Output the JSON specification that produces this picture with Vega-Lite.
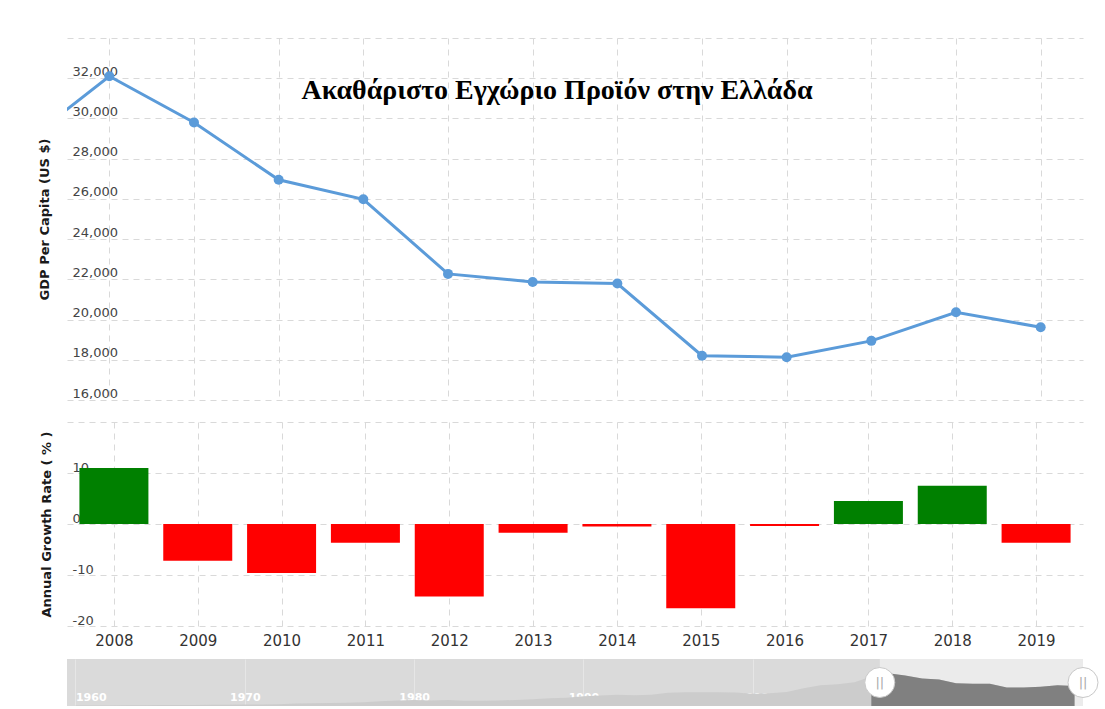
{
  "$schema": "https://vega.github.io/schema/vega-lite/v6.json",
  "background": "#ffffff",
  "padding": {"left": 38, "top": 38, "right": 10, "bottom": 0},
  "spacing": 11,
  "config": {
    "view": {"stroke": null},
    "font": "DejaVu Sans",
    "axis": {
      "gridColor": "#d9d9d9",
      "gridDash": [6, 5],
      "gridWidth": 1,
      "domain": false,
      "labelFont": "DejaVu Sans",
      "titleFont": "DejaVu Sans"
    }
  },
  "datasets": {
    "gdp": [
      {"year": 2007, "gdp": 28800, "growth": null},
      {"year": 2008, "gdp": 32100, "growth": 11.0},
      {"year": 2009, "gdp": 29800, "growth": -7.2},
      {"year": 2010, "gdp": 26950, "growth": -9.6},
      {"year": 2011, "gdp": 25980, "growth": -3.7},
      {"year": 2012, "gdp": 22270, "growth": -14.2},
      {"year": 2013, "gdp": 21870, "growth": -1.7},
      {"year": 2014, "gdp": 21790, "growth": -0.5},
      {"year": 2015, "gdp": 18200, "growth": -16.5},
      {"year": 2016, "gdp": 18130, "growth": -0.4},
      {"year": 2017, "gdp": 18940, "growth": 4.5},
      {"year": 2018, "gdp": 20360, "growth": 7.5},
      {"year": 2019, "gdp": 19620, "growth": -3.7}
    ],
    "history": [
      {"year": 1960, "gdp": 520}, {"year": 1961, "gdp": 580}, {"year": 1962, "gdp": 610},
      {"year": 1963, "gdp": 680}, {"year": 1964, "gdp": 770}, {"year": 1965, "gdp": 870},
      {"year": 1966, "gdp": 960}, {"year": 1967, "gdp": 1030}, {"year": 1968, "gdp": 1110},
      {"year": 1969, "gdp": 1260}, {"year": 1970, "gdp": 1450}, {"year": 1971, "gdp": 1590},
      {"year": 1972, "gdp": 1830}, {"year": 1973, "gdp": 2430}, {"year": 1974, "gdp": 2790},
      {"year": 1975, "gdp": 3020}, {"year": 1976, "gdp": 3290}, {"year": 1977, "gdp": 3770},
      {"year": 1978, "gdp": 4550}, {"year": 1979, "gdp": 5500}, {"year": 1980, "gdp": 5890},
      {"year": 1981, "gdp": 5500}, {"year": 1982, "gdp": 5840}, {"year": 1983, "gdp": 5250},
      {"year": 1984, "gdp": 5180}, {"year": 1985, "gdp": 5410}, {"year": 1986, "gdp": 5940},
      {"year": 1987, "gdp": 6660}, {"year": 1988, "gdp": 7670}, {"year": 1989, "gdp": 7980},
      {"year": 1990, "gdp": 9620}, {"year": 1991, "gdp": 10220}, {"year": 1992, "gdp": 11120},
      {"year": 1993, "gdp": 10560}, {"year": 1994, "gdp": 11060}, {"year": 1995, "gdp": 12990},
      {"year": 1996, "gdp": 13550}, {"year": 1997, "gdp": 13340}, {"year": 1998, "gdp": 13360},
      {"year": 1999, "gdp": 13160}, {"year": 2000, "gdp": 11890}, {"year": 2001, "gdp": 12380},
      {"year": 2002, "gdp": 13740}, {"year": 2003, "gdp": 17490}, {"year": 2004, "gdp": 20270},
      {"year": 2005, "gdp": 21400}, {"year": 2006, "gdp": 23360}, {"year": 2007, "gdp": 28800},
      {"year": 2008, "gdp": 32100}, {"year": 2009, "gdp": 29800}, {"year": 2010, "gdp": 26950},
      {"year": 2011, "gdp": 25980}, {"year": 2012, "gdp": 22270}, {"year": 2013, "gdp": 21870},
      {"year": 2014, "gdp": 21790}, {"year": 2015, "gdp": 18200}, {"year": 2016, "gdp": 18130},
      {"year": 2017, "gdp": 18940}, {"year": 2018, "gdp": 20360}, {"year": 2019, "gdp": 19620}
    ],
    "selection": [{"start": 2007.5, "end": 2019.5}],
    "handles": [{"edge": 2007.5}, {"edge": 2019.5}]
  },
  "vconcat": [
    {
      "width": 1016,
      "height": 362,
      "data": {"name": "gdp"},
      "title": {
        "text": "Ακαθάριστο Εγχώριο Προϊόν στην Ελλάδα",
        "font": "Liberation Serif",
        "fontSize": 28,
        "fontWeight": "bold",
        "color": "#000000",
        "anchor": "middle",
        "baseline": "alphabetic",
        "offset": 0,
        "dy": 89,
        "dx": -18
      },
      "encoding": {
        "x": {
          "field": "year",
          "type": "quantitative",
          "scale": {"domain": [2007.5, 2019.5], "nice": false, "zero": false},
          "axis": {
            "values": [2008, 2009, 2010, 2011, 2012, 2013, 2014, 2015, 2016, 2017, 2018, 2019],
            "labels": false,
            "ticks": true,
            "tickSize": 11,
            "tickOpacity": 0,
            "title": null,
            "grid": true
          }
        },
        "y": {
          "field": "gdp",
          "type": "quantitative",
          "scale": {"domain": [16000, 34000], "nice": false, "zero": false},
          "axis": {
            "values": [16000, 18000, 20000, 22000, 24000, 26000, 28000, 30000, 32000, 34000],
            "labelExpr": "datum.value >= 34000 ? '' : format(datum.value, ',')",
            "title": "GDP Per Capita (US $)",
            "titleFontSize": 13,
            "titleFontWeight": "bold",
            "titleColor": "#1a1a1a",
            "titlePadding": 16,
            "labelAlign": "left",
            "labelBaseline": "alphabetic",
            "labelPadding": -5,
            "labelOffset": -3,
            "ticks": false,
            "tickSize": 0,
            "labelFontSize": 13,
            "labelColor": "#444444",
            "minExtent": 0,
            "maxExtent": 0,
            "grid": true
          }
        }
      },
      "layer": [
        {"mark": {"type": "line", "color": "#5b9bd9", "strokeWidth": 3, "clip": true}},
        {"mark": {"type": "point", "filled": true, "size": 100, "color": "#5b9bd9", "opacity": 1, "clip": true}}
      ]
    },
    {
      "width": 1016,
      "height": 204,
      "data": {"name": "gdp"},
      "mark": {"type": "bar", "size": 69, "clip": true},
      "encoding": {
        "x": {
          "field": "year",
          "type": "quantitative",
          "scale": {"domain": [2007.5, 2019.5], "nice": false, "zero": false},
          "axis": {
            "values": [2008, 2009, 2010, 2011, 2012, 2013, 2014, 2015, 2016, 2017, 2018, 2019],
            "format": "d",
            "title": null,
            "ticks": false,
            "tickSize": 0,
            "labelPadding": 7,
            "labelFontSize": 15,
            "labelColor": "#333333",
            "labelFlush": false,
            "grid": true
          }
        },
        "y": {
          "field": "growth",
          "type": "quantitative",
          "scale": {"domain": [-20, 20], "nice": false},
          "axis": {
            "values": [-20, -10, 0, 10, 20],
            "labelExpr": "datum.value >= 20 ? '' : '' + datum.value",
            "title": "Annual Growth Rate ( % )",
            "titleFontSize": 13,
            "titleFontWeight": "bold",
            "titleColor": "#1a1a1a",
            "titlePadding": 14,
            "labelAlign": "left",
            "labelBaseline": "alphabetic",
            "labelPadding": -5,
            "labelOffset": -2,
            "ticks": false,
            "tickSize": 0,
            "labelFontSize": 13,
            "labelColor": "#444444",
            "minExtent": 0,
            "maxExtent": 0,
            "grid": true
          }
        },
        "color": {"condition": {"test": "datum.growth > 0", "value": "#008000"}, "value": "#ff0000"}
      }
    },
    {
      "width": 1016,
      "height": 47,
      "view": {"fill": "#dadada", "stroke": null},
      "layer": [
        {
          "data": {"name": "selection"},
          "mark": {"type": "rect", "color": "#ebebeb"},
          "encoding": {
            "x": {"field": "start", "type": "quantitative", "scale": {"domain": [1959.5, 2019.5], "nice": false, "zero": false},
              "axis": {
                "values": [1960, 1970, 1980, 1990, 2000, 2010],
                "format": "d",
                "title": null,
                "ticks": false,
                "tickSize": 0,
                "labelPadding": -6,
                "labelBaseline": "alphabetic",
                "labelFontSize": 11,
                "labelFontWeight": "bold",
                "labelColor": "#ffffff",
                "labelFlush": 10,
                "grid": true,
                "gridColor": "#e6e6e6",
                "gridDash": []
              }
            },
            "x2": {"field": "end"}
          }
        },
        {
          "data": {"name": "history"},
          "mark": {"type": "area", "color": "#cccccc", "opacity": 1},
          "encoding": {
            "x": {"field": "year", "type": "quantitative"},
            "y": {"field": "gdp", "type": "quantitative", "scale": {"domain": [0, 46000], "nice": false}, "axis": null}
          }
        },
        {
          "data": {"name": "history"},
          "transform": [{"filter": "datum.year >= 2007"}],
          "mark": {"type": "area", "color": "#808080", "opacity": 1},
          "encoding": {
            "x": {"field": "year", "type": "quantitative"},
            "y": {"field": "gdp", "type": "quantitative", "axis": null}
          }
        },
        {
          "data": {"name": "handles"},
          "mark": {"type": "point", "shape": "circle", "filled": true, "fill": "#ffffff", "stroke": "#c8c8c8", "strokeWidth": 1, "size": 900, "opacity": 1},
          "encoding": {"x": {"field": "edge", "type": "quantitative"}}
        },
        {
          "data": {"name": "handles"},
          "mark": {"type": "text", "text": "||", "color": "#aaaaaa", "fontSize": 13, "baseline": "middle"},
          "encoding": {"x": {"field": "edge", "type": "quantitative"}}
        }
      ]
    }
  ]
}
